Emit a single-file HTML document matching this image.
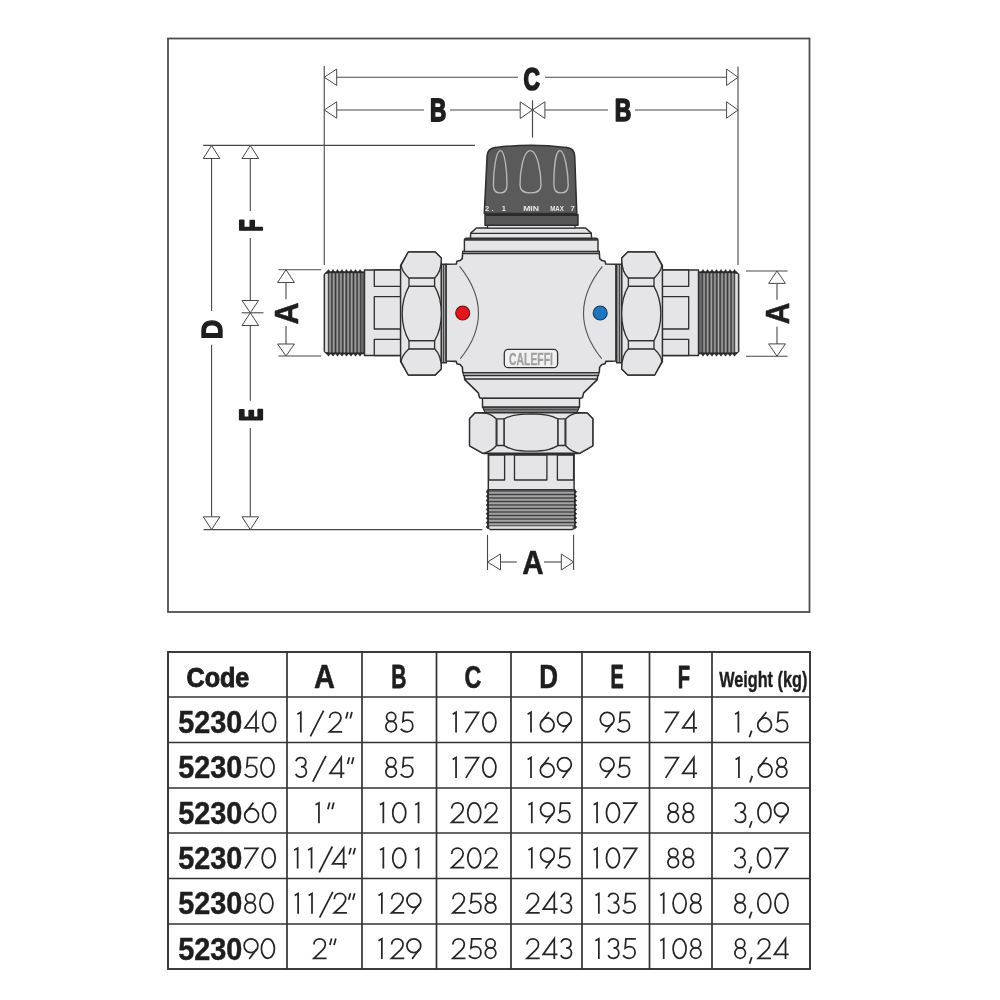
<!DOCTYPE html>
<html><head><meta charset="utf-8"><style>
html,body{margin:0;padding:0;background:#fff;}
body{width:1000px;height:1000px;overflow:hidden;font-family:"Liberation Sans",sans-serif;}
svg{display:block;} text{-webkit-font-smoothing:antialiased;} .gs{will-change:transform;}
</style></head><body>
<svg class="gs" width="1000" height="1000" viewBox="0 0 1000 1000">
<rect width="1000" height="1000" fill="#fff"/>
<rect x="168" y="38.5" width="641.5" height="573.5" fill="none" stroke="#4d4d4d" stroke-width="1.8"/>
<line x1="324.25" y1="66" x2="324.25" y2="265" stroke="#484848" stroke-width="1.1"/>
<line x1="738" y1="66.5" x2="738" y2="265" stroke="#484848" stroke-width="1.1"/>
<line x1="336" y1="77.25" x2="518" y2="77.25" stroke="#484848" stroke-width="1.1"/>
<line x1="545" y1="77.25" x2="727" y2="77.25" stroke="#484848" stroke-width="1.1"/>
<polygon points="324.25,77.25 336.70,69.05 336.70,85.45" fill="#fff" stroke="#484848" stroke-width="1.0" />
<polygon points="738.00,77.25 726.60,69.05 726.60,85.45" fill="#fff" stroke="#484848" stroke-width="1.0" />
<line x1="336" y1="110" x2="424" y2="110" stroke="#484848" stroke-width="1.1"/>
<line x1="450" y1="110" x2="520.5" y2="110" stroke="#484848" stroke-width="1.1"/>
<line x1="544.5" y1="110" x2="608" y2="110" stroke="#484848" stroke-width="1.1"/>
<line x1="635" y1="110" x2="727" y2="110" stroke="#484848" stroke-width="1.1"/>
<polygon points="324.25,110.00 336.70,101.80 336.70,118.20" fill="#fff" stroke="#484848" stroke-width="1.0" />
<polygon points="738.00,110.00 726.60,101.80 726.60,118.20" fill="#fff" stroke="#484848" stroke-width="1.0" />
<line x1="532.5" y1="100.5" x2="532.5" y2="137.4" stroke="#484848" stroke-width="1.1"/>
<polygon points="532.50,110.00 520.20,101.80 520.20,118.50" fill="#fff" stroke="#484848" stroke-width="1.0" />
<polygon points="532.50,110.00 544.90,101.80 544.90,118.50" fill="#fff" stroke="#484848" stroke-width="1.0" />
<line x1="532.5" y1="100.5" x2="532.5" y2="137.4" stroke="#484848" stroke-width="1.1"/>
<line x1="203.2" y1="145.4" x2="475" y2="145.4" stroke="#484848" stroke-width="1.1"/>
<line x1="203.6" y1="529.6" x2="482.4" y2="529.6" stroke="#484848" stroke-width="1.1"/>
<line x1="211.6" y1="158" x2="211.6" y2="311" stroke="#484848" stroke-width="1.1"/>
<line x1="211.6" y1="344.7" x2="211.6" y2="517" stroke="#484848" stroke-width="1.1"/>
<polygon points="211.60,145.40 203.30,158.50 219.90,158.50" fill="#fff" stroke="#484848" stroke-width="1.0" />
<polygon points="211.60,529.60 203.30,516.80 219.90,516.80" fill="#fff" stroke="#484848" stroke-width="1.0" />
<line x1="250.3" y1="158" x2="250.3" y2="211" stroke="#484848" stroke-width="1.1"/>
<line x1="250.3" y1="238" x2="250.3" y2="300.5" stroke="#484848" stroke-width="1.1"/>
<line x1="250.3" y1="325.5" x2="250.3" y2="400.8" stroke="#484848" stroke-width="1.1"/>
<line x1="250.3" y1="428" x2="250.3" y2="517" stroke="#484848" stroke-width="1.1"/>
<polygon points="250.30,145.40 242.00,158.50 258.60,158.50" fill="#fff" stroke="#484848" stroke-width="1.0" />
<polygon points="250.30,529.60 242.00,516.80 258.60,516.80" fill="#fff" stroke="#484848" stroke-width="1.0" />
<polygon points="250.30,312.80 242.00,300.50 258.60,300.50" fill="#fff" stroke="#484848" stroke-width="1.0" />
<polygon points="250.30,312.80 242.00,325.50 258.60,325.50" fill="#fff" stroke="#484848" stroke-width="1.0" />
<line x1="241.75" y1="312.8" x2="263.5" y2="312.8" stroke="#484848" stroke-width="1.1"/>
<line x1="278.5" y1="269.75" x2="321.25" y2="269.75" stroke="#484848" stroke-width="1.1"/>
<line x1="278.5" y1="356" x2="321.25" y2="356" stroke="#484848" stroke-width="1.1"/>
<line x1="286" y1="282.5" x2="286" y2="299.3" stroke="#484848" stroke-width="1.1"/>
<line x1="286" y1="326" x2="286" y2="344" stroke="#484848" stroke-width="1.1"/>
<polygon points="286.00,269.75 277.60,282.50 294.40,282.50" fill="#fff" stroke="#484848" stroke-width="1.0" />
<polygon points="286.00,356.00 277.60,344.00 294.40,344.00" fill="#fff" stroke="#484848" stroke-width="1.0" />
<line x1="746" y1="271" x2="787.6" y2="271" stroke="#484848" stroke-width="1.1"/>
<line x1="746" y1="356.2" x2="787.6" y2="356.2" stroke="#484848" stroke-width="1.1"/>
<line x1="777" y1="283.4" x2="777" y2="299.8" stroke="#484848" stroke-width="1.1"/>
<line x1="777" y1="326.8" x2="777" y2="343.9" stroke="#484848" stroke-width="1.1"/>
<polygon points="777.00,271.00 768.60,283.40 785.40,283.40" fill="#fff" stroke="#484848" stroke-width="1.0" />
<polygon points="777.00,356.20 768.60,343.90 785.40,343.90" fill="#fff" stroke="#484848" stroke-width="1.0" />
<line x1="487.5" y1="534.8" x2="487.5" y2="570" stroke="#484848" stroke-width="1.1"/>
<line x1="573.6" y1="534.8" x2="573.6" y2="570" stroke="#484848" stroke-width="1.1"/>
<line x1="500.5" y1="562" x2="516.8" y2="562" stroke="#484848" stroke-width="1.1"/>
<line x1="544" y1="562" x2="561.3" y2="562" stroke="#484848" stroke-width="1.1"/>
<polygon points="487.50,562.00 500.50,554.00 500.50,570.00" fill="#fff" stroke="#484848" stroke-width="1.0" />
<polygon points="573.60,562.00 561.30,554.00 561.30,570.00" fill="#fff" stroke="#484848" stroke-width="1.0" />
<g transform="translate(531.70,78.55) rotate(0) scale(0.6957,0.9304)"><text x="0" y="11.78" text-anchor="middle" font-family="Liberation Sans" font-weight="bold" font-size="32.72" fill="#1e1e1e" stroke="#1e1e1e" stroke-width="1.869" stroke-linejoin="round">C</text></g>
<g transform="translate(438.20,109.90) rotate(0) scale(0.7401,1.0048)"><text x="0" y="10.96" text-anchor="middle" font-family="Liberation Sans" font-weight="bold" font-size="30.45" fill="#1e1e1e" stroke="#1e1e1e" stroke-width="1.756" stroke-linejoin="round">B</text></g>
<g transform="translate(622.90,109.90) rotate(0) scale(0.7514,1.0048)"><text x="0" y="10.96" text-anchor="middle" font-family="Liberation Sans" font-weight="bold" font-size="30.45" fill="#1e1e1e" stroke="#1e1e1e" stroke-width="1.730" stroke-linejoin="round">B</text></g>
<g transform="translate(211.65,329.50) rotate(-90) scale(0.8571,0.9516)"><text x="0" y="11.33" text-anchor="middle" font-family="Liberation Sans" font-weight="bold" font-size="31.48" fill="#1e1e1e" stroke="#1e1e1e" stroke-width="1.517" stroke-linejoin="round">D</text></g>
<g transform="translate(250.20,225.40) rotate(-90) scale(0.6272,1.0046)"><text x="0" y="11.26" text-anchor="middle" font-family="Liberation Sans" font-weight="bold" font-size="31.28" fill="#1e1e1e" stroke="#1e1e1e" stroke-width="2.073" stroke-linejoin="round">F</text></g>
<g transform="translate(250.20,414.80) rotate(-90) scale(0.5830,1.0045)"><text x="0" y="11.46" text-anchor="middle" font-family="Liberation Sans" font-weight="bold" font-size="31.82" fill="#1e1e1e" stroke="#1e1e1e" stroke-width="2.230" stroke-linejoin="round">E</text></g>
<g transform="translate(285.75,313.50) rotate(-90) scale(0.9567,1.0575)"><text x="0" y="11.48" text-anchor="middle" font-family="Liberation Sans" font-weight="bold" font-size="31.89" fill="#1e1e1e" stroke="#1e1e1e" stroke-width="0.523" stroke-linejoin="round">A</text></g>
<g transform="translate(776.90,313.50) rotate(-90) scale(0.9559,1.0463)"><text x="0" y="11.26" text-anchor="middle" font-family="Liberation Sans" font-weight="bold" font-size="31.28" fill="#1e1e1e" stroke="#1e1e1e" stroke-width="0.523" stroke-linejoin="round">A</text></g>
<g transform="translate(532.90,561.90) rotate(0) scale(0.9329,1.0462)"><text x="0" y="11.46" text-anchor="middle" font-family="Liberation Sans" font-weight="bold" font-size="31.82" fill="#1e1e1e" stroke="#1e1e1e" stroke-width="0.536" stroke-linejoin="round">A</text></g>
<g transform="translate(217.90,677.00) rotate(0) scale(0.8663,0.9589)"><text x="0" y="10.44" text-anchor="middle" font-family="Liberation Sans" font-weight="bold" font-size="29.00" fill="#1e1e1e" stroke="#1e1e1e" stroke-width="1.039" stroke-linejoin="round">Code</text></g>
<g transform="translate(324.40,676.10) rotate(0) scale(1.0011,1.1297)"><text x="0" y="10.44" text-anchor="middle" font-family="Liberation Sans" font-weight="bold" font-size="29.00" fill="#1e1e1e" stroke="#1e1e1e" stroke-width="0.499" stroke-linejoin="round">A</text></g>
<g transform="translate(398.90,676.10) rotate(0) scale(0.7238,1.1297)"><text x="0" y="10.44" text-anchor="middle" font-family="Liberation Sans" font-weight="bold" font-size="29.00" fill="#1e1e1e" stroke="#1e1e1e" stroke-width="0.691" stroke-linejoin="round">B</text></g>
<g transform="translate(472.90,677.00) rotate(0) scale(0.8012,1.1000)"><text x="0" y="10.44" text-anchor="middle" font-family="Liberation Sans" font-weight="bold" font-size="29.00" fill="#1e1e1e" stroke="#1e1e1e" stroke-width="0.624" stroke-linejoin="round">C</text></g>
<g transform="translate(548.50,676.10) rotate(0) scale(0.8951,1.1297)"><text x="0" y="10.44" text-anchor="middle" font-family="Liberation Sans" font-weight="bold" font-size="29.00" fill="#1e1e1e" stroke="#1e1e1e" stroke-width="0.559" stroke-linejoin="round">D</text></g>
<g transform="translate(617.10,676.10) rotate(0) scale(0.6832,1.1297)"><text x="0" y="10.44" text-anchor="middle" font-family="Liberation Sans" font-weight="bold" font-size="29.00" fill="#1e1e1e" stroke="#1e1e1e" stroke-width="0.732" stroke-linejoin="round">E</text></g>
<g transform="translate(683.90,677.10) rotate(0) scale(0.6954,1.0566)"><text x="0" y="10.44" text-anchor="middle" font-family="Liberation Sans" font-weight="bold" font-size="29.00" fill="#1e1e1e" stroke="#1e1e1e" stroke-width="0.719" stroke-linejoin="round">F</text></g>
<g transform="translate(763.25,679.60) rotate(0) scale(0.5610,0.7545)"><text x="0" y="10.44" text-anchor="middle" font-family="Liberation Sans" font-weight="bold" font-size="29.00" fill="#1e1e1e" stroke="#1e1e1e" stroke-width="0.535" stroke-linejoin="round">Weight (kg)</text></g>
<g>
<path d="M326.50,272.25 L364.50,272.25 L364.50,353.50 L326.50,353.50 L324.25,351.00 L324.25,274.50 Z" fill="#6c6c6c" stroke="#2f2f2f" stroke-width="1.32" stroke-linejoin="round" />
<rect x="325.2" y="274" width="2.8" height="78" fill="#e0e0e0"/>
<line x1="328.30" y1="272.5" x2="328.30" y2="353.3" stroke="#333" stroke-width="0.85"/>
<line x1="330.10" y1="272.5" x2="330.10" y2="353.3" stroke="#c4c4c4" stroke-width="0.7"/>
<line x1="331.90" y1="272.5" x2="331.90" y2="353.3" stroke="#333" stroke-width="0.85"/>
<line x1="333.70" y1="272.5" x2="333.70" y2="353.3" stroke="#c4c4c4" stroke-width="0.7"/>
<line x1="335.50" y1="272.5" x2="335.50" y2="353.3" stroke="#333" stroke-width="0.85"/>
<line x1="337.30" y1="272.5" x2="337.30" y2="353.3" stroke="#c4c4c4" stroke-width="0.7"/>
<line x1="339.10" y1="272.5" x2="339.10" y2="353.3" stroke="#333" stroke-width="0.85"/>
<line x1="340.90" y1="272.5" x2="340.90" y2="353.3" stroke="#c4c4c4" stroke-width="0.7"/>
<line x1="342.70" y1="272.5" x2="342.70" y2="353.3" stroke="#333" stroke-width="0.85"/>
<line x1="344.50" y1="272.5" x2="344.50" y2="353.3" stroke="#c4c4c4" stroke-width="0.7"/>
<line x1="346.30" y1="272.5" x2="346.30" y2="353.3" stroke="#333" stroke-width="0.85"/>
<line x1="348.10" y1="272.5" x2="348.10" y2="353.3" stroke="#c4c4c4" stroke-width="0.7"/>
<line x1="349.90" y1="272.5" x2="349.90" y2="353.3" stroke="#333" stroke-width="0.85"/>
<line x1="351.70" y1="272.5" x2="351.70" y2="353.3" stroke="#c4c4c4" stroke-width="0.7"/>
<line x1="353.50" y1="272.5" x2="353.50" y2="353.3" stroke="#333" stroke-width="0.85"/>
<line x1="355.30" y1="272.5" x2="355.30" y2="353.3" stroke="#c4c4c4" stroke-width="0.7"/>
<line x1="357.10" y1="272.5" x2="357.10" y2="353.3" stroke="#333" stroke-width="0.85"/>
<line x1="358.90" y1="272.5" x2="358.90" y2="353.3" stroke="#c4c4c4" stroke-width="0.7"/>
<line x1="360.70" y1="272.5" x2="360.70" y2="353.3" stroke="#333" stroke-width="0.85"/>
<path d="M326.25,272.8 L328.50,269.6 L330.75,272.8 Z M326.25,353.0 L328.50,356.2 L330.75,353.0 Z M330.75,272.8 L333.00,269.6 L335.25,272.8 Z M330.75,353.0 L333.00,356.2 L335.25,353.0 Z M335.25,272.8 L337.50,269.6 L339.75,272.8 Z M335.25,353.0 L337.50,356.2 L339.75,353.0 Z M339.75,272.8 L342.00,269.6 L344.25,272.8 Z M339.75,353.0 L342.00,356.2 L344.25,353.0 Z M344.25,272.8 L346.50,269.6 L348.75,272.8 Z M344.25,353.0 L346.50,356.2 L348.75,353.0 Z M348.75,272.8 L351.00,269.6 L353.25,272.8 Z M348.75,353.0 L351.00,356.2 L353.25,353.0 Z M353.25,272.8 L355.50,269.6 L357.75,272.8 Z M353.25,353.0 L355.50,356.2 L357.75,353.0 Z M357.75,272.8 L360.00,269.6 L362.25,272.8 Z M357.75,353.0 L360.00,356.2 L362.25,353.0 Z" fill="#2a2a2a" stroke="#2a2a2a" stroke-width="0.6"/>
<line x1="326" y1="272.4" x2="364.5" y2="272.4" stroke="#2a2a2a" stroke-width="1.2"/>
<line x1="326" y1="353.4" x2="364.5" y2="353.4" stroke="#2a2a2a" stroke-width="1.2"/>
<path d="M364.50,270.00 L400.60,270.00 L400.60,355.50 L364.50,355.50 Z" fill="#e5e5e7" stroke="#2f2f2f" stroke-width="1.44" stroke-linejoin="round" />
<path d="M374.30,270.00 L400.60,270.00 L400.60,286.40 L374.30,286.40 Z" fill="#e5e5e7" stroke="#2f2f2f" stroke-width="1.32" stroke-linejoin="round" />
<path d="M374.30,296.70 L400.60,296.70 L400.60,329.00 L374.30,329.00 Z" fill="#e5e5e7" stroke="#2f2f2f" stroke-width="1.32" stroke-linejoin="round" />
<path d="M374.30,339.40 L400.60,339.40 L400.60,355.50 L374.30,355.50 Z" fill="#e5e5e7" stroke="#2f2f2f" stroke-width="1.32" stroke-linejoin="round" />
<path d="M441.20,264.20 L446.40,264.20 L446.40,362.80 L441.20,362.80 Z" fill="#a9a9a9" stroke="#2f2f2f" stroke-width="1.44" stroke-linejoin="round" />
<line x1="443.6" y1="265" x2="443.6" y2="362" stroke="#3a3a3a" stroke-width="1.0"/>
<path d="M408.30,252.00 L435.20,252.00 L441.20,258.00 L441.20,369.00 L435.20,375.00 L408.30,375.00 L400.60,361.70 L400.60,265.30 Z" fill="#e5e5e7" stroke="#2f2f2f" stroke-width="1.44" stroke-linejoin="round" />
<path d="M408.3,252 L435.2,252 L441.2,258 C441.5,266 439,274 434.6,278.2 L409,278.2 C404.5,274 401.5,270 401.2,265.3 Z" fill="#e5e5e7" stroke="#2f2f2f" stroke-width="1.32" stroke-linejoin="round" />
<path d="M408.3,375 L435.2,375 L441.2,369 C441.5,361 439,353 434.6,348.8 L409,348.8 C404.5,353 401.5,357 401.2,361.7 Z" fill="#e5e5e7" stroke="#2f2f2f" stroke-width="1.32" stroke-linejoin="round" />
<path d="M409.00,278.20 L434.60,278.20 L434.60,286.30 L409.00,286.30 Z" fill="#e5e5e7" stroke="#2f2f2f" stroke-width="1.32" stroke-linejoin="round" />
<path d="M409.00,340.70 L434.60,340.70 L434.60,348.80 L409.00,348.80 Z" fill="#e5e5e7" stroke="#2f2f2f" stroke-width="1.32" stroke-linejoin="round" />
<path d="M409,286.3 L434.6,286.3 C440,295 441.3,305 441.3,313.5 C441.3,322 440,332 434.6,340.7 L409,340.7 C404,332 402.2,322 402.2,313.5 C402.2,305 404,295 409,286.3 Z" fill="#e5e5e7" stroke="#2f2f2f" stroke-width="1.32" stroke-linejoin="round" />
</g>
<g transform="translate(1063,0) scale(-1,1)">
<path d="M326.50,272.25 L364.50,272.25 L364.50,353.50 L326.50,353.50 L324.25,351.00 L324.25,274.50 Z" fill="#6c6c6c" stroke="#2f2f2f" stroke-width="1.32" stroke-linejoin="round" />
<rect x="325.2" y="274" width="2.8" height="78" fill="#e0e0e0"/>
<line x1="328.30" y1="272.5" x2="328.30" y2="353.3" stroke="#333" stroke-width="0.85"/>
<line x1="330.10" y1="272.5" x2="330.10" y2="353.3" stroke="#c4c4c4" stroke-width="0.7"/>
<line x1="331.90" y1="272.5" x2="331.90" y2="353.3" stroke="#333" stroke-width="0.85"/>
<line x1="333.70" y1="272.5" x2="333.70" y2="353.3" stroke="#c4c4c4" stroke-width="0.7"/>
<line x1="335.50" y1="272.5" x2="335.50" y2="353.3" stroke="#333" stroke-width="0.85"/>
<line x1="337.30" y1="272.5" x2="337.30" y2="353.3" stroke="#c4c4c4" stroke-width="0.7"/>
<line x1="339.10" y1="272.5" x2="339.10" y2="353.3" stroke="#333" stroke-width="0.85"/>
<line x1="340.90" y1="272.5" x2="340.90" y2="353.3" stroke="#c4c4c4" stroke-width="0.7"/>
<line x1="342.70" y1="272.5" x2="342.70" y2="353.3" stroke="#333" stroke-width="0.85"/>
<line x1="344.50" y1="272.5" x2="344.50" y2="353.3" stroke="#c4c4c4" stroke-width="0.7"/>
<line x1="346.30" y1="272.5" x2="346.30" y2="353.3" stroke="#333" stroke-width="0.85"/>
<line x1="348.10" y1="272.5" x2="348.10" y2="353.3" stroke="#c4c4c4" stroke-width="0.7"/>
<line x1="349.90" y1="272.5" x2="349.90" y2="353.3" stroke="#333" stroke-width="0.85"/>
<line x1="351.70" y1="272.5" x2="351.70" y2="353.3" stroke="#c4c4c4" stroke-width="0.7"/>
<line x1="353.50" y1="272.5" x2="353.50" y2="353.3" stroke="#333" stroke-width="0.85"/>
<line x1="355.30" y1="272.5" x2="355.30" y2="353.3" stroke="#c4c4c4" stroke-width="0.7"/>
<line x1="357.10" y1="272.5" x2="357.10" y2="353.3" stroke="#333" stroke-width="0.85"/>
<line x1="358.90" y1="272.5" x2="358.90" y2="353.3" stroke="#c4c4c4" stroke-width="0.7"/>
<line x1="360.70" y1="272.5" x2="360.70" y2="353.3" stroke="#333" stroke-width="0.85"/>
<path d="M326.25,272.8 L328.50,269.6 L330.75,272.8 Z M326.25,353.0 L328.50,356.2 L330.75,353.0 Z M330.75,272.8 L333.00,269.6 L335.25,272.8 Z M330.75,353.0 L333.00,356.2 L335.25,353.0 Z M335.25,272.8 L337.50,269.6 L339.75,272.8 Z M335.25,353.0 L337.50,356.2 L339.75,353.0 Z M339.75,272.8 L342.00,269.6 L344.25,272.8 Z M339.75,353.0 L342.00,356.2 L344.25,353.0 Z M344.25,272.8 L346.50,269.6 L348.75,272.8 Z M344.25,353.0 L346.50,356.2 L348.75,353.0 Z M348.75,272.8 L351.00,269.6 L353.25,272.8 Z M348.75,353.0 L351.00,356.2 L353.25,353.0 Z M353.25,272.8 L355.50,269.6 L357.75,272.8 Z M353.25,353.0 L355.50,356.2 L357.75,353.0 Z M357.75,272.8 L360.00,269.6 L362.25,272.8 Z M357.75,353.0 L360.00,356.2 L362.25,353.0 Z" fill="#2a2a2a" stroke="#2a2a2a" stroke-width="0.6"/>
<line x1="326" y1="272.4" x2="364.5" y2="272.4" stroke="#2a2a2a" stroke-width="1.2"/>
<line x1="326" y1="353.4" x2="364.5" y2="353.4" stroke="#2a2a2a" stroke-width="1.2"/>
<path d="M364.50,270.00 L400.60,270.00 L400.60,355.50 L364.50,355.50 Z" fill="#e5e5e7" stroke="#2f2f2f" stroke-width="1.44" stroke-linejoin="round" />
<path d="M374.30,270.00 L400.60,270.00 L400.60,286.40 L374.30,286.40 Z" fill="#e5e5e7" stroke="#2f2f2f" stroke-width="1.32" stroke-linejoin="round" />
<path d="M374.30,296.70 L400.60,296.70 L400.60,329.00 L374.30,329.00 Z" fill="#e5e5e7" stroke="#2f2f2f" stroke-width="1.32" stroke-linejoin="round" />
<path d="M374.30,339.40 L400.60,339.40 L400.60,355.50 L374.30,355.50 Z" fill="#e5e5e7" stroke="#2f2f2f" stroke-width="1.32" stroke-linejoin="round" />
<path d="M441.20,264.20 L446.40,264.20 L446.40,362.80 L441.20,362.80 Z" fill="#a9a9a9" stroke="#2f2f2f" stroke-width="1.44" stroke-linejoin="round" />
<line x1="443.6" y1="265" x2="443.6" y2="362" stroke="#3a3a3a" stroke-width="1.0"/>
<path d="M408.30,252.00 L435.20,252.00 L441.20,258.00 L441.20,369.00 L435.20,375.00 L408.30,375.00 L400.60,361.70 L400.60,265.30 Z" fill="#e5e5e7" stroke="#2f2f2f" stroke-width="1.44" stroke-linejoin="round" />
<path d="M408.3,252 L435.2,252 L441.2,258 C441.5,266 439,274 434.6,278.2 L409,278.2 C404.5,274 401.5,270 401.2,265.3 Z" fill="#e5e5e7" stroke="#2f2f2f" stroke-width="1.32" stroke-linejoin="round" />
<path d="M408.3,375 L435.2,375 L441.2,369 C441.5,361 439,353 434.6,348.8 L409,348.8 C404.5,353 401.5,357 401.2,361.7 Z" fill="#e5e5e7" stroke="#2f2f2f" stroke-width="1.32" stroke-linejoin="round" />
<path d="M409.00,278.20 L434.60,278.20 L434.60,286.30 L409.00,286.30 Z" fill="#e5e5e7" stroke="#2f2f2f" stroke-width="1.32" stroke-linejoin="round" />
<path d="M409.00,340.70 L434.60,340.70 L434.60,348.80 L409.00,348.80 Z" fill="#e5e5e7" stroke="#2f2f2f" stroke-width="1.32" stroke-linejoin="round" />
<path d="M409,286.3 L434.6,286.3 C440,295 441.3,305 441.3,313.5 C441.3,322 440,332 434.6,340.7 L409,340.7 C404,332 402.2,322 402.2,313.5 C402.2,305 404,295 409,286.3 Z" fill="#e5e5e7" stroke="#2f2f2f" stroke-width="1.32" stroke-linejoin="round" />
</g>
<path d="M462.60,253.20 L462.30,258.60 L460.20,260.40 L456.90,261.30 L456.30,264.00 L446.10,264.30 L446.10,361.00 L456.20,361.40 L456.90,363.70 L460.10,364.60 L462.40,367.20 L462.70,372.10 L464.30,374.70 L464.70,379.60 L478.30,392.90 L479.60,397.80 L482.50,398.40 L579.50,398.40 L582.40,397.80 L583.70,392.90 L597.30,379.60 L597.70,374.70 L599.30,372.10 L599.60,367.20 L601.90,364.60 L605.10,363.70 L605.80,361.40 L615.90,361.00 L615.90,264.30 L605.70,264.00 L605.10,261.30 L601.80,260.40 L599.70,258.60 L599.40,253.20 Z" fill="#e5e5e7" stroke="#2f2f2f" stroke-width="1.56" stroke-linejoin="round" />
<path d="M482.50,398.40 L579.50,398.40 L579.50,407.20 L482.50,407.20 Z" fill="#e5e5e7" stroke="#2f2f2f" stroke-width="1.44" stroke-linejoin="round" />
<path d="M482.80,407.20 L579.20,407.20 L577.00,412.50 L485.00,412.50 Z" fill="#7c7c7c" stroke="#2f2f2f" stroke-width="1.2" stroke-linejoin="round" />
<line x1="484" y1="409.6" x2="578" y2="409.6" stroke="#444" stroke-width="0.9"/>
<path d="M463.20,372.60 L598.80,372.60 L598.60,375.60 L463.40,375.60 Z" fill="#a8a8a8" stroke="#2f2f2f" stroke-width="1.08" stroke-linejoin="round" />
<line x1="464.7" y1="379" x2="597.3" y2="379" stroke="#2f2f2f" stroke-width="1.3"/>
<path d="M462.60,253.60 L599.40,253.60 L599.40,251.20 L462.60,251.20 Z" fill="#8c8c8c" stroke="#2f2f2f" stroke-width="1.2" stroke-linejoin="round" />
<path d="M464.4,251.4 L464.4,240.5 Q464.4,238.2 466.5,238.2 L595.9,238.2 Q598,238.2 598,240.5 L598,251.4 Z" fill="#e5e5e7" stroke="#2f2f2f" stroke-width="1.44" stroke-linejoin="round" />
<line x1="465" y1="239.8" x2="597.5" y2="239.8" stroke="#3a3a3a" stroke-width="2"/>
<path d="M476.40,228.00 L585.60,228.00 L591.30,233.10 L591.60,238.20 L470.40,238.20 L470.70,233.10 Z" fill="#e5e5e7" stroke="#2f2f2f" stroke-width="1.44" stroke-linejoin="round" />
<line x1="471" y1="233.3" x2="591" y2="233.3" stroke="#2f2f2f" stroke-width="1.3"/>
<path d="M487.50,225.00 L575.00,225.00 L575.00,228.00 L487.50,228.00 Z" fill="#e5e5e7" stroke="#2f2f2f" stroke-width="1.2" stroke-linejoin="round" />
<path d="M485.00,214.50 L578.00,214.50 L578.00,225.20 L485.00,225.20 Z" fill="#575757" stroke="#2f2f2f" stroke-width="1.44" stroke-linejoin="round" />
<line x1="486" y1="215.2" x2="577" y2="215.2" stroke="#2a2a2a" stroke-width="1.6"/>
<path d="M484.3,213.5 L487.1,156 Q487.6,148.2 496,147.4 Q531,143.2 566,147.4 Q574.4,148.2 574.7,156 L576.8,213.5 Z" fill="#5a5a5a" stroke="#2f2f2f" stroke-width="1.56" stroke-linejoin="round" />
<path d="M500.4,150.6 C495.64,150.6 493.4,172.9 493.4,184.9 C493.4,190.9 496.79999999999995,192.9 500.2,192.9 C503.6,192.9 507,190.9 507,184.9 C507,172.9 505.15999999999997,150.6 500.4,150.6 Z" fill="none" stroke="#b9b9b9" stroke-width="1.35"/>
<path d="M530.3,150.6 C522.9499999999999,150.6 520,172.9 520,184.9 C520,190.9 525.25,192.9 530.5,192.9 C535.75,192.9 541,190.9 541,184.9 C541,172.9 537.65,150.6 530.3,150.6 Z" fill="none" stroke="#b9b9b9" stroke-width="1.35"/>
<path d="M559.9,150.6 C554.895,150.6 553.9,172.9 553.9,184.9 C553.9,190.9 557.475,192.9 561.05,192.9 C564.625,192.9 568.2,190.9 568.2,184.9 C568.2,172.9 564.905,150.6 559.9,150.6 Z" fill="none" stroke="#b9b9b9" stroke-width="1.35"/>
<text x="485" y="210.5" font-family="Liberation Sans" font-weight="bold" font-size="7.5" fill="#e8e8e8">2</text>
<text x="491.5" y="210.5" font-family="Liberation Sans" font-weight="bold" font-size="7.5" fill="#e8e8e8">.</text>
<text x="501.8" y="210.5" font-family="Liberation Sans" font-weight="bold" font-size="7.5" fill="#e8e8e8">1</text>
<text x="523.2" y="210.5" font-family="Liberation Sans" font-weight="bold" font-size="7.5" fill="#e8e8e8" textLength="15.8" lengthAdjust="spacingAndGlyphs">MIN</text>
<text x="550.2" y="210.5" font-family="Liberation Sans" font-weight="bold" font-size="7.5" fill="#e8e8e8" textLength="13.6" lengthAdjust="spacingAndGlyphs">MAX</text>
<text x="570.6" y="210.5" font-family="Liberation Sans" font-weight="bold" font-size="7.5" fill="#e8e8e8">7</text>
<path d="M459.6,266.3 Q497,313 460.3,358.7" fill="none" stroke="#555" stroke-width="1.1"/>
<path d="M602.4,266.3 Q565,313 601.7,358.7" fill="none" stroke="#555" stroke-width="1.1"/>
<circle cx="462.7" cy="313" r="7" fill="#e3151e" stroke="#6e1010" stroke-width="1.1"/>
<circle cx="600.2" cy="313" r="7" fill="#1f75c0" stroke="#0f3a60" stroke-width="1.1"/>
<rect x="504.3" y="349.3" width="53.3" height="18.4" rx="4" fill="#f1f1f1" stroke="#333" stroke-width="1.3"/>
<text x="531" y="364.8" text-anchor="middle" font-family="Liberation Sans" font-weight="bold" font-size="16.5" fill="#a0a0a0" stroke="#a0a0a0" stroke-width="0.3" textLength="43.8" lengthAdjust="spacingAndGlyphs">CALEFFI</text>
<path d="M475.20,412.80 L586.90,412.80 L592.80,418.80 L592.80,445.70 L579.50,453.40 L482.90,453.40 L469.60,445.70 L469.60,418.80 Z" fill="#e5e5e7" stroke="#2f2f2f" stroke-width="1.56" stroke-linejoin="round" />
<path d="M475.2,412.8 L487,413.4 C491,414.4 494,416.5 496.2,418.8 L496.2,445.7 C493,449.5 489,452 482.9,453.4 L469.6,445.7 L469.6,418.8 Z" fill="#e5e5e7" stroke="#2f2f2f" stroke-width="1.32" stroke-linejoin="round" />
<path d="M586.9,412.8 L575,413.4 C571,414.4 568,416.5 565.8,418.8 L565.8,445.7 C569,449.5 573,452 579.5,453.4 L592.8,445.7 L592.8,418.8 Z" fill="#e5e5e7" stroke="#2f2f2f" stroke-width="1.32" stroke-linejoin="round" />
<path d="M496.90,418.80 L504.20,418.80 L504.20,445.50 L496.90,445.50 Z" fill="#e5e5e7" stroke="#2f2f2f" stroke-width="1.32" stroke-linejoin="round" />
<path d="M557.80,418.80 L565.10,418.80 L565.10,445.50 L557.80,445.50 Z" fill="#e5e5e7" stroke="#2f2f2f" stroke-width="1.32" stroke-linejoin="round" />
<path d="M504.2,418.8 C510,416 515,414 531,413.8 C547,414 552,416 557.8,418.8 L557.8,445.6 C552,449 547,451 531,451.2 C515,451 510,449 504.2,445.6 Z" fill="#e5e5e7" stroke="#2f2f2f" stroke-width="1.32" stroke-linejoin="round" />
<path d="M488.30,453.60 L574.10,453.60 L574.10,489.70 L488.30,489.70 Z" fill="#e5e5e7" stroke="#2f2f2f" stroke-width="1.44" stroke-linejoin="round" />
<line x1="488.3" y1="454.5" x2="574.1" y2="454.5" stroke="#2f2f2f" stroke-width="1.8"/>
<path d="M488.70,455.20 L504.60,455.20 L504.60,480.00 L488.70,480.00 Z" fill="#e5e5e7" stroke="#2f2f2f" stroke-width="1.32" stroke-linejoin="round" />
<path d="M514.50,455.20 L546.90,455.20 L546.90,480.00 L514.50,480.00 Z" fill="#e5e5e7" stroke="#2f2f2f" stroke-width="1.32" stroke-linejoin="round" />
<path d="M557.40,455.20 L573.60,455.20 L573.60,480.00 L557.40,480.00 Z" fill="#e5e5e7" stroke="#2f2f2f" stroke-width="1.32" stroke-linejoin="round" />
<path d="M488.00,489.70 L574.80,489.70 L574.80,527.50 L572.50,529.60 L490.30,529.60 L488.00,527.50 Z" fill="#808080" stroke="#2f2f2f" stroke-width="1.32" stroke-linejoin="round" />
<line x1="489" y1="491.00" x2="574" y2="491.00" stroke="#333" stroke-width="0.85"/>
<line x1="489" y1="492.75" x2="574" y2="492.75" stroke="#c4c4c4" stroke-width="0.7"/>
<line x1="489" y1="494.50" x2="574" y2="494.50" stroke="#333" stroke-width="0.85"/>
<line x1="489" y1="496.25" x2="574" y2="496.25" stroke="#c4c4c4" stroke-width="0.7"/>
<line x1="489" y1="498.00" x2="574" y2="498.00" stroke="#333" stroke-width="0.85"/>
<line x1="489" y1="499.75" x2="574" y2="499.75" stroke="#c4c4c4" stroke-width="0.7"/>
<line x1="489" y1="501.50" x2="574" y2="501.50" stroke="#333" stroke-width="0.85"/>
<line x1="489" y1="503.25" x2="574" y2="503.25" stroke="#c4c4c4" stroke-width="0.7"/>
<line x1="489" y1="505.00" x2="574" y2="505.00" stroke="#333" stroke-width="0.85"/>
<line x1="489" y1="506.75" x2="574" y2="506.75" stroke="#c4c4c4" stroke-width="0.7"/>
<line x1="489" y1="508.50" x2="574" y2="508.50" stroke="#333" stroke-width="0.85"/>
<line x1="489" y1="510.25" x2="574" y2="510.25" stroke="#c4c4c4" stroke-width="0.7"/>
<line x1="489" y1="512.00" x2="574" y2="512.00" stroke="#333" stroke-width="0.85"/>
<line x1="489" y1="513.75" x2="574" y2="513.75" stroke="#c4c4c4" stroke-width="0.7"/>
<line x1="489" y1="515.50" x2="574" y2="515.50" stroke="#333" stroke-width="0.85"/>
<line x1="489" y1="517.25" x2="574" y2="517.25" stroke="#c4c4c4" stroke-width="0.7"/>
<line x1="489" y1="519.00" x2="574" y2="519.00" stroke="#333" stroke-width="0.85"/>
<line x1="489" y1="520.75" x2="574" y2="520.75" stroke="#c4c4c4" stroke-width="0.7"/>
<line x1="489" y1="522.50" x2="574" y2="522.50" stroke="#333" stroke-width="0.85"/>
<line x1="489" y1="524.25" x2="574" y2="524.25" stroke="#c4c4c4" stroke-width="0.7"/>
<line x1="489" y1="526.00" x2="574" y2="526.00" stroke="#333" stroke-width="0.85"/>
<path d="M488.2,489.70 L486.0,491.80 L488.2,493.90 Z M574.6,489.70 L576.8,491.80 L574.6,493.90 Z M488.2,494.10 L486.0,496.20 L488.2,498.30 Z M574.6,494.10 L576.8,496.20 L574.6,498.30 Z M488.2,498.50 L486.0,500.60 L488.2,502.70 Z M574.6,498.50 L576.8,500.60 L574.6,502.70 Z M488.2,502.90 L486.0,505.00 L488.2,507.10 Z M574.6,502.90 L576.8,505.00 L574.6,507.10 Z M488.2,507.30 L486.0,509.40 L488.2,511.50 Z M574.6,507.30 L576.8,509.40 L574.6,511.50 Z M488.2,511.70 L486.0,513.80 L488.2,515.90 Z M574.6,511.70 L576.8,513.80 L574.6,515.90 Z M488.2,516.10 L486.0,518.20 L488.2,520.30 Z M574.6,516.10 L576.8,518.20 L574.6,520.30 Z M488.2,520.50 L486.0,522.60 L488.2,524.70 Z M574.6,520.50 L576.8,522.60 L574.6,524.70 Z M488.2,524.90 L486.0,527.00 L488.2,529.10 Z M574.6,524.90 L576.8,527.00 L574.6,529.10 Z" fill="#2a2a2a" stroke="#2a2a2a" stroke-width="0.6"/>
<rect x="489.5" y="526.3" width="83" height="2.4" fill="#e0e0e0"/>
<line x1="488.2" y1="489.7" x2="488.2" y2="527.5" stroke="#2a2a2a" stroke-width="1.2"/>
<line x1="574.6" y1="489.7" x2="574.6" y2="527.5" stroke="#2a2a2a" stroke-width="1.2"/>
<rect x="168" y="652" width="642" height="317" fill="none" stroke="#333" stroke-width="1.9"/>
<line x1="287" y1="652" x2="287" y2="969" stroke="#333" stroke-width="1.7"/>
<line x1="362" y1="652" x2="362" y2="969" stroke="#333" stroke-width="1.7"/>
<line x1="436.5" y1="652" x2="436.5" y2="969" stroke="#333" stroke-width="1.7"/>
<line x1="511" y1="652" x2="511" y2="969" stroke="#333" stroke-width="1.7"/>
<line x1="582" y1="652" x2="582" y2="969" stroke="#333" stroke-width="1.7"/>
<line x1="649.5" y1="652" x2="649.5" y2="969" stroke="#333" stroke-width="1.7"/>
<line x1="712" y1="652" x2="712" y2="969" stroke="#333" stroke-width="1.7"/>
<line x1="168" y1="697" x2="810" y2="697" stroke="#333" stroke-width="1.7"/>
<line x1="168" y1="742.5" x2="810" y2="742.5" stroke="#333" stroke-width="1.7"/>
<line x1="168" y1="788" x2="810" y2="788" stroke="#333" stroke-width="1.7"/>
<line x1="168" y1="833" x2="810" y2="833" stroke="#333" stroke-width="1.7"/>
<line x1="168" y1="878.5" x2="810" y2="878.5" stroke="#333" stroke-width="1.7"/>
<line x1="168" y1="924" x2="810" y2="924" stroke="#333" stroke-width="1.7"/>
<text x="178.2" y="733.0" font-family="Liberation Sans" font-weight="bold" font-size="30.5" fill="#1e1e1e" stroke="#1e1e1e" stroke-width="0.45" textLength="64.2" lengthAdjust="spacingAndGlyphs">5230</text>
<g transform="translate(244.00,732.60) scale(1.0)" fill="none" stroke="#262626" stroke-width="1.75" stroke-linecap="butt" stroke-linejoin="miter"><g transform="translate(0.00,0)"><path d="M15.2,-4.6 L0.9,-4.6 L12.0,-20.3 L12.0,0"/></g><g transform="translate(17.80,0)"><ellipse cx="7.3" cy="-10.5" rx="6.5" ry="9.8"/></g></g>
<g transform="translate(296.60,732.60) scale(1.0)" fill="none" stroke="#262626" stroke-width="1.75" stroke-linecap="butt" stroke-linejoin="miter"><g transform="translate(0.00,0)"><path d="M0.8,-18.4 L4.2,-20.3 L4.2,0"/></g><g transform="translate(13.00,0)"><path d="M0.8,3.8 L14.0,-22"/></g><g transform="translate(31.80,0)"><path d="M1.2,-14.6 C1.2,-18.2 3.8,-20.3 6.9,-20.3 C10.1,-20.3 12.6,-18.0 12.6,-14.7 C12.6,-12.3 11.3,-10.6 9.7,-9.0 L1.1,-0.8 L13.8,-0.8"/></g><g transform="translate(48.60,0)"><path d="M2.6,-20.6 L0.8,-14.0 M6.8,-20.6 L5.0,-14.0"/></g></g>
<g transform="translate(384.90,732.60) scale(1.0)" fill="none" stroke="#262626" stroke-width="1.75" stroke-linecap="butt" stroke-linejoin="miter"><g transform="translate(0.00,0)"><circle cx="6.25" cy="-15.6" r="4.6"/><circle cx="6.25" cy="-6.1" r="5.3"/></g><g transform="translate(15.10,0)"><path d="M13.6,-20.2 L3.7,-20.2 L2.9,-11.0 C4.3,-12.0 5.9,-12.5 7.4,-12.5 C10.7,-12.5 12.8,-10.0 12.8,-6.6 C12.8,-3.0 10.4,-0.8 7.1,-0.8 C4.4,-0.8 2.1,-2.0 0.8,-3.9"/></g></g>
<g transform="translate(451.85,732.60) scale(1.0)" fill="none" stroke="#262626" stroke-width="1.75" stroke-linecap="butt" stroke-linejoin="miter"><g transform="translate(0.00,0)"><path d="M0.8,-18.4 L4.2,-20.3 L4.2,0"/></g><g transform="translate(12.80,0)"><path d="M0,-20.2 L13.8,-20.2 L1.2,0"/></g><g transform="translate(30.20,0)"><ellipse cx="7.3" cy="-10.5" rx="6.5" ry="9.8"/></g></g>
<g transform="translate(526.80,732.60) scale(1.0)" fill="none" stroke="#262626" stroke-width="1.75" stroke-linecap="butt" stroke-linejoin="miter"><g transform="translate(0.00,0)"><path d="M0.8,-18.4 L4.2,-20.3 L4.2,0"/></g><g transform="translate(12.80,0)"><circle cx="7.6" cy="-7.7" r="6.9"/><path d="M9.4,-20.6 L1.9,-10.8"/></g><g transform="translate(30.60,0)"><circle cx="7.0" cy="-13.4" r="6.9"/><path d="M12.6,-10.0 L5.2,0"/></g></g>
<g transform="translate(600.15,732.60) scale(1.0)" fill="none" stroke="#262626" stroke-width="1.75" stroke-linecap="butt" stroke-linejoin="miter"><g transform="translate(0.00,0)"><circle cx="7.0" cy="-13.4" r="6.9"/><path d="M12.6,-10.0 L5.2,0"/></g><g transform="translate(16.60,0)"><path d="M13.6,-20.2 L3.7,-20.2 L2.9,-11.0 C4.3,-12.0 5.9,-12.5 7.4,-12.5 C10.7,-12.5 12.8,-10.0 12.8,-6.6 C12.8,-3.0 10.4,-0.8 7.1,-0.8 C4.4,-0.8 2.1,-2.0 0.8,-3.9"/></g></g>
<g transform="translate(664.45,732.60) scale(1.0)" fill="none" stroke="#262626" stroke-width="1.75" stroke-linecap="butt" stroke-linejoin="miter"><g transform="translate(0.00,0)"><path d="M0,-20.2 L13.8,-20.2 L1.2,0"/></g><g transform="translate(17.40,0)"><path d="M15.2,-4.6 L0.9,-4.6 L12.0,-20.3 L12.0,0"/></g></g>
<g transform="translate(734.20,732.60) scale(1.0)" fill="none" stroke="#262626" stroke-width="1.75" stroke-linecap="butt" stroke-linejoin="miter"><g transform="translate(0.00,0)"><path d="M0.8,-18.4 L4.2,-20.3 L4.2,0"/></g><g transform="translate(14.60,0)"><path d="M2.9,-2.0 L0.6,4.6"/></g><g transform="translate(22.80,0)"><circle cx="7.6" cy="-7.7" r="6.9"/><path d="M9.4,-20.6 L1.9,-10.8"/></g><g transform="translate(40.60,0)"><path d="M13.6,-20.2 L3.7,-20.2 L2.9,-11.0 C4.3,-12.0 5.9,-12.5 7.4,-12.5 C10.7,-12.5 12.8,-10.0 12.8,-6.6 C12.8,-3.0 10.4,-0.8 7.1,-0.8 C4.4,-0.8 2.1,-2.0 0.8,-3.9"/></g></g>
<text x="178.2" y="778.3" font-family="Liberation Sans" font-weight="bold" font-size="30.5" fill="#1e1e1e" stroke="#1e1e1e" stroke-width="0.45" textLength="64.2" lengthAdjust="spacingAndGlyphs">5230</text>
<g transform="translate(244.00,777.90) scale(1.0)" fill="none" stroke="#262626" stroke-width="1.75" stroke-linecap="butt" stroke-linejoin="miter"><g transform="translate(0.00,0)"><path d="M13.6,-20.2 L3.7,-20.2 L2.9,-11.0 C4.3,-12.0 5.9,-12.5 7.4,-12.5 C10.7,-12.5 12.8,-10.0 12.8,-6.6 C12.8,-3.0 10.4,-0.8 7.1,-0.8 C4.4,-0.8 2.1,-2.0 0.8,-3.9"/></g><g transform="translate(16.20,0)"><ellipse cx="7.3" cy="-10.5" rx="6.5" ry="9.8"/></g></g>
<g transform="translate(295.00,777.90) scale(1.0)" fill="none" stroke="#262626" stroke-width="1.75" stroke-linecap="butt" stroke-linejoin="miter"><g transform="translate(0.00,0)"><path d="M1.0,-16.6 C1.6,-18.9 3.6,-20.3 6.0,-20.3 C8.8,-20.3 10.8,-18.4 10.8,-15.7 C10.8,-12.9 8.8,-11.2 6.0,-11.2 C9.2,-11.2 11.4,-9.0 11.4,-6.0 C11.4,-2.8 9.1,-0.8 6.1,-0.8 C3.5,-0.8 1.6,-2.0 0.8,-4.0"/></g><g transform="translate(17.00,0)"><path d="M0.8,3.8 L14.0,-22"/></g><g transform="translate(34.20,0)"><path d="M15.2,-4.6 L0.9,-4.6 L12.0,-20.3 L12.0,0"/></g><g transform="translate(51.80,0)"><path d="M2.6,-20.6 L0.8,-14.0 M6.8,-20.6 L5.0,-14.0"/></g></g>
<g transform="translate(384.90,777.90) scale(1.0)" fill="none" stroke="#262626" stroke-width="1.75" stroke-linecap="butt" stroke-linejoin="miter"><g transform="translate(0.00,0)"><circle cx="6.25" cy="-15.6" r="4.6"/><circle cx="6.25" cy="-6.1" r="5.3"/></g><g transform="translate(15.10,0)"><path d="M13.6,-20.2 L3.7,-20.2 L2.9,-11.0 C4.3,-12.0 5.9,-12.5 7.4,-12.5 C10.7,-12.5 12.8,-10.0 12.8,-6.6 C12.8,-3.0 10.4,-0.8 7.1,-0.8 C4.4,-0.8 2.1,-2.0 0.8,-3.9"/></g></g>
<g transform="translate(451.85,777.90) scale(1.0)" fill="none" stroke="#262626" stroke-width="1.75" stroke-linecap="butt" stroke-linejoin="miter"><g transform="translate(0.00,0)"><path d="M0.8,-18.4 L4.2,-20.3 L4.2,0"/></g><g transform="translate(12.80,0)"><path d="M0,-20.2 L13.8,-20.2 L1.2,0"/></g><g transform="translate(30.20,0)"><ellipse cx="7.3" cy="-10.5" rx="6.5" ry="9.8"/></g></g>
<g transform="translate(526.80,777.90) scale(1.0)" fill="none" stroke="#262626" stroke-width="1.75" stroke-linecap="butt" stroke-linejoin="miter"><g transform="translate(0.00,0)"><path d="M0.8,-18.4 L4.2,-20.3 L4.2,0"/></g><g transform="translate(12.80,0)"><circle cx="7.6" cy="-7.7" r="6.9"/><path d="M9.4,-20.6 L1.9,-10.8"/></g><g transform="translate(30.60,0)"><circle cx="7.0" cy="-13.4" r="6.9"/><path d="M12.6,-10.0 L5.2,0"/></g></g>
<g transform="translate(600.15,777.90) scale(1.0)" fill="none" stroke="#262626" stroke-width="1.75" stroke-linecap="butt" stroke-linejoin="miter"><g transform="translate(0.00,0)"><circle cx="7.0" cy="-13.4" r="6.9"/><path d="M12.6,-10.0 L5.2,0"/></g><g transform="translate(16.60,0)"><path d="M13.6,-20.2 L3.7,-20.2 L2.9,-11.0 C4.3,-12.0 5.9,-12.5 7.4,-12.5 C10.7,-12.5 12.8,-10.0 12.8,-6.6 C12.8,-3.0 10.4,-0.8 7.1,-0.8 C4.4,-0.8 2.1,-2.0 0.8,-3.9"/></g></g>
<g transform="translate(664.45,777.90) scale(1.0)" fill="none" stroke="#262626" stroke-width="1.75" stroke-linecap="butt" stroke-linejoin="miter"><g transform="translate(0.00,0)"><path d="M0,-20.2 L13.8,-20.2 L1.2,0"/></g><g transform="translate(17.40,0)"><path d="M15.2,-4.6 L0.9,-4.6 L12.0,-20.3 L12.0,0"/></g></g>
<g transform="translate(734.75,777.90) scale(1.0)" fill="none" stroke="#262626" stroke-width="1.75" stroke-linecap="butt" stroke-linejoin="miter"><g transform="translate(0.00,0)"><path d="M0.8,-18.4 L4.2,-20.3 L4.2,0"/></g><g transform="translate(14.60,0)"><path d="M2.9,-2.0 L0.6,4.6"/></g><g transform="translate(22.80,0)"><circle cx="7.6" cy="-7.7" r="6.9"/><path d="M9.4,-20.6 L1.9,-10.8"/></g><g transform="translate(40.60,0)"><circle cx="6.25" cy="-15.6" r="4.6"/><circle cx="6.25" cy="-6.1" r="5.3"/></g></g>
<text x="178.2" y="823.6" font-family="Liberation Sans" font-weight="bold" font-size="30.5" fill="#1e1e1e" stroke="#1e1e1e" stroke-width="0.45" textLength="64.2" lengthAdjust="spacingAndGlyphs">5230</text>
<g transform="translate(244.00,823.20) scale(1.0)" fill="none" stroke="#262626" stroke-width="1.75" stroke-linecap="butt" stroke-linejoin="miter"><g transform="translate(0.00,0)"><circle cx="7.6" cy="-7.7" r="6.9"/><path d="M9.4,-20.6 L1.9,-10.8"/></g><g transform="translate(17.80,0)"><ellipse cx="7.3" cy="-10.5" rx="6.5" ry="9.8"/></g></g>
<g transform="translate(314.75,823.20) scale(1.0)" fill="none" stroke="#262626" stroke-width="1.75" stroke-linecap="butt" stroke-linejoin="miter"><g transform="translate(0.00,0)"><path d="M0.8,-18.4 L4.2,-20.3 L4.2,0"/></g><g transform="translate(12.30,0)"><path d="M2.6,-20.6 L0.8,-14.0 M6.8,-20.6 L5.0,-14.0"/></g></g>
<g transform="translate(379.15,823.20) scale(1.0)" fill="none" stroke="#262626" stroke-width="1.75" stroke-linecap="butt" stroke-linejoin="miter"><g transform="translate(0.00,0)"><path d="M0.8,-18.4 L4.2,-20.3 L4.2,0"/></g><g transform="translate(12.80,0)"><ellipse cx="7.3" cy="-10.5" rx="6.5" ry="9.8"/></g><g transform="translate(35.20,0)"><path d="M0.8,-18.4 L4.2,-20.3 L4.2,0"/></g></g>
<g transform="translate(450.55,823.20) scale(1.0)" fill="none" stroke="#262626" stroke-width="1.75" stroke-linecap="butt" stroke-linejoin="miter"><g transform="translate(0.00,0)"><path d="M1.2,-14.6 C1.2,-18.2 3.8,-20.3 6.9,-20.3 C10.1,-20.3 12.6,-18.0 12.6,-14.7 C12.6,-12.3 11.3,-10.6 9.7,-9.0 L1.1,-0.8 L13.8,-0.8"/></g><g transform="translate(16.40,0)"><ellipse cx="7.3" cy="-10.5" rx="6.5" ry="9.8"/></g><g transform="translate(33.60,0)"><path d="M1.2,-14.6 C1.2,-18.2 3.8,-20.3 6.9,-20.3 C10.1,-20.3 12.6,-18.0 12.6,-14.7 C12.6,-12.3 11.3,-10.6 9.7,-9.0 L1.1,-0.8 L13.8,-0.8"/></g></g>
<g transform="translate(527.60,823.20) scale(1.0)" fill="none" stroke="#262626" stroke-width="1.75" stroke-linecap="butt" stroke-linejoin="miter"><g transform="translate(0.00,0)"><path d="M0.8,-18.4 L4.2,-20.3 L4.2,0"/></g><g transform="translate(12.80,0)"><circle cx="7.0" cy="-13.4" r="6.9"/><path d="M12.6,-10.0 L5.2,0"/></g><g transform="translate(29.40,0)"><path d="M13.6,-20.2 L3.7,-20.2 L2.9,-11.0 C4.3,-12.0 5.9,-12.5 7.4,-12.5 C10.7,-12.5 12.8,-10.0 12.8,-6.6 C12.8,-3.0 10.4,-0.8 7.1,-0.8 C4.4,-0.8 2.1,-2.0 0.8,-3.9"/></g></g>
<g transform="translate(592.85,823.20) scale(1.0)" fill="none" stroke="#262626" stroke-width="1.75" stroke-linecap="butt" stroke-linejoin="miter"><g transform="translate(0.00,0)"><path d="M0.8,-18.4 L4.2,-20.3 L4.2,0"/></g><g transform="translate(12.80,0)"><ellipse cx="7.3" cy="-10.5" rx="6.5" ry="9.8"/></g><g transform="translate(30.00,0)"><path d="M0,-20.2 L13.8,-20.2 L1.2,0"/></g></g>
<g transform="translate(666.95,823.20) scale(1.0)" fill="none" stroke="#262626" stroke-width="1.75" stroke-linecap="butt" stroke-linejoin="miter"><g transform="translate(0.00,0)"><circle cx="6.25" cy="-15.6" r="4.6"/><circle cx="6.25" cy="-6.1" r="5.3"/></g><g transform="translate(15.10,0)"><circle cx="6.25" cy="-15.6" r="4.6"/><circle cx="6.25" cy="-6.1" r="5.3"/></g></g>
<g transform="translate(734.25,823.20) scale(1.0)" fill="none" stroke="#262626" stroke-width="1.75" stroke-linecap="butt" stroke-linejoin="miter"><g transform="translate(0.00,0)"><path d="M1.0,-16.6 C1.6,-18.9 3.6,-20.3 6.0,-20.3 C8.8,-20.3 10.8,-18.4 10.8,-15.7 C10.8,-12.9 8.8,-11.2 6.0,-11.2 C9.2,-11.2 11.4,-9.0 11.4,-6.0 C11.4,-2.8 9.1,-0.8 6.1,-0.8 C3.5,-0.8 1.6,-2.0 0.8,-4.0"/></g><g transform="translate(14.70,0)"><path d="M2.9,-2.0 L0.6,4.6"/></g><g transform="translate(22.90,0)"><ellipse cx="7.3" cy="-10.5" rx="6.5" ry="9.8"/></g><g transform="translate(40.10,0)"><circle cx="7.0" cy="-13.4" r="6.9"/><path d="M12.6,-10.0 L5.2,0"/></g></g>
<text x="178.2" y="868.9" font-family="Liberation Sans" font-weight="bold" font-size="30.5" fill="#1e1e1e" stroke="#1e1e1e" stroke-width="0.45" textLength="64.2" lengthAdjust="spacingAndGlyphs">5230</text>
<g transform="translate(244.00,868.50) scale(1.0)" fill="none" stroke="#262626" stroke-width="1.75" stroke-linecap="butt" stroke-linejoin="miter"><g transform="translate(0.00,0)"><path d="M0,-20.2 L13.8,-20.2 L1.2,0"/></g><g transform="translate(17.40,0)"><ellipse cx="7.3" cy="-10.5" rx="6.5" ry="9.8"/></g></g>
<g transform="translate(293.45,868.50) scale(1.0)" fill="none" stroke="#262626" stroke-width="1.75" stroke-linecap="butt" stroke-linejoin="miter"><g transform="translate(0.00,0)"><path d="M0.8,-18.4 L4.2,-20.3 L4.2,0"/></g><g transform="translate(13.90,0)"><path d="M0.8,-18.4 L4.2,-20.3 L4.2,0"/></g><g transform="translate(24.90,0)"><path d="M0.8,3.8 L14.0,-22"/></g><g transform="translate(38.20,0)"><path d="M15.2,-4.6 L0.9,-4.6 L12.0,-20.3 L12.0,0"/></g><g transform="translate(54.90,0)"><path d="M2.6,-20.6 L0.8,-14.0 M6.8,-20.6 L5.0,-14.0"/></g></g>
<g transform="translate(379.15,868.50) scale(1.0)" fill="none" stroke="#262626" stroke-width="1.75" stroke-linecap="butt" stroke-linejoin="miter"><g transform="translate(0.00,0)"><path d="M0.8,-18.4 L4.2,-20.3 L4.2,0"/></g><g transform="translate(12.80,0)"><ellipse cx="7.3" cy="-10.5" rx="6.5" ry="9.8"/></g><g transform="translate(35.20,0)"><path d="M0.8,-18.4 L4.2,-20.3 L4.2,0"/></g></g>
<g transform="translate(450.55,868.50) scale(1.0)" fill="none" stroke="#262626" stroke-width="1.75" stroke-linecap="butt" stroke-linejoin="miter"><g transform="translate(0.00,0)"><path d="M1.2,-14.6 C1.2,-18.2 3.8,-20.3 6.9,-20.3 C10.1,-20.3 12.6,-18.0 12.6,-14.7 C12.6,-12.3 11.3,-10.6 9.7,-9.0 L1.1,-0.8 L13.8,-0.8"/></g><g transform="translate(16.40,0)"><ellipse cx="7.3" cy="-10.5" rx="6.5" ry="9.8"/></g><g transform="translate(33.60,0)"><path d="M1.2,-14.6 C1.2,-18.2 3.8,-20.3 6.9,-20.3 C10.1,-20.3 12.6,-18.0 12.6,-14.7 C12.6,-12.3 11.3,-10.6 9.7,-9.0 L1.1,-0.8 L13.8,-0.8"/></g></g>
<g transform="translate(527.60,868.50) scale(1.0)" fill="none" stroke="#262626" stroke-width="1.75" stroke-linecap="butt" stroke-linejoin="miter"><g transform="translate(0.00,0)"><path d="M0.8,-18.4 L4.2,-20.3 L4.2,0"/></g><g transform="translate(12.80,0)"><circle cx="7.0" cy="-13.4" r="6.9"/><path d="M12.6,-10.0 L5.2,0"/></g><g transform="translate(29.40,0)"><path d="M13.6,-20.2 L3.7,-20.2 L2.9,-11.0 C4.3,-12.0 5.9,-12.5 7.4,-12.5 C10.7,-12.5 12.8,-10.0 12.8,-6.6 C12.8,-3.0 10.4,-0.8 7.1,-0.8 C4.4,-0.8 2.1,-2.0 0.8,-3.9"/></g></g>
<g transform="translate(592.85,868.50) scale(1.0)" fill="none" stroke="#262626" stroke-width="1.75" stroke-linecap="butt" stroke-linejoin="miter"><g transform="translate(0.00,0)"><path d="M0.8,-18.4 L4.2,-20.3 L4.2,0"/></g><g transform="translate(12.80,0)"><ellipse cx="7.3" cy="-10.5" rx="6.5" ry="9.8"/></g><g transform="translate(30.00,0)"><path d="M0,-20.2 L13.8,-20.2 L1.2,0"/></g></g>
<g transform="translate(666.95,868.50) scale(1.0)" fill="none" stroke="#262626" stroke-width="1.75" stroke-linecap="butt" stroke-linejoin="miter"><g transform="translate(0.00,0)"><circle cx="6.25" cy="-15.6" r="4.6"/><circle cx="6.25" cy="-6.1" r="5.3"/></g><g transform="translate(15.10,0)"><circle cx="6.25" cy="-15.6" r="4.6"/><circle cx="6.25" cy="-6.1" r="5.3"/></g></g>
<g transform="translate(733.85,868.50) scale(1.0)" fill="none" stroke="#262626" stroke-width="1.75" stroke-linecap="butt" stroke-linejoin="miter"><g transform="translate(0.00,0)"><path d="M1.0,-16.6 C1.6,-18.9 3.6,-20.3 6.0,-20.3 C8.8,-20.3 10.8,-18.4 10.8,-15.7 C10.8,-12.9 8.8,-11.2 6.0,-11.2 C9.2,-11.2 11.4,-9.0 11.4,-6.0 C11.4,-2.8 9.1,-0.8 6.1,-0.8 C3.5,-0.8 1.6,-2.0 0.8,-4.0"/></g><g transform="translate(14.70,0)"><path d="M2.9,-2.0 L0.6,4.6"/></g><g transform="translate(22.90,0)"><ellipse cx="7.3" cy="-10.5" rx="6.5" ry="9.8"/></g><g transform="translate(40.10,0)"><path d="M0,-20.2 L13.8,-20.2 L1.2,0"/></g></g>
<text x="178.2" y="914.2" font-family="Liberation Sans" font-weight="bold" font-size="30.5" fill="#1e1e1e" stroke="#1e1e1e" stroke-width="0.45" textLength="64.2" lengthAdjust="spacingAndGlyphs">5230</text>
<g transform="translate(244.00,913.80) scale(1.0)" fill="none" stroke="#262626" stroke-width="1.75" stroke-linecap="butt" stroke-linejoin="miter"><g transform="translate(0.00,0)"><circle cx="6.25" cy="-15.6" r="4.6"/><circle cx="6.25" cy="-6.1" r="5.3"/></g><g transform="translate(15.10,0)"><ellipse cx="7.3" cy="-10.5" rx="6.5" ry="9.8"/></g></g>
<g transform="translate(293.90,913.80) scale(1.0)" fill="none" stroke="#262626" stroke-width="1.75" stroke-linecap="butt" stroke-linejoin="miter"><g transform="translate(0.00,0)"><path d="M0.8,-18.4 L4.2,-20.3 L4.2,0"/></g><g transform="translate(13.90,0)"><path d="M0.8,-18.4 L4.2,-20.3 L4.2,0"/></g><g transform="translate(24.90,0)"><path d="M0.8,3.8 L14.0,-22"/></g><g transform="translate(39.20,0)"><path d="M1.2,-14.6 C1.2,-18.2 3.8,-20.3 6.9,-20.3 C10.1,-20.3 12.6,-18.0 12.6,-14.7 C12.6,-12.3 11.3,-10.6 9.7,-9.0 L1.1,-0.8 L13.8,-0.8"/></g><g transform="translate(54.00,0)"><path d="M2.6,-20.6 L0.8,-14.0 M6.8,-20.6 L5.0,-14.0"/></g></g>
<g transform="translate(377.65,913.80) scale(1.0)" fill="none" stroke="#262626" stroke-width="1.75" stroke-linecap="butt" stroke-linejoin="miter"><g transform="translate(0.00,0)"><path d="M0.8,-18.4 L4.2,-20.3 L4.2,0"/></g><g transform="translate(12.80,0)"><path d="M1.2,-14.6 C1.2,-18.2 3.8,-20.3 6.9,-20.3 C10.1,-20.3 12.6,-18.0 12.6,-14.7 C12.6,-12.3 11.3,-10.6 9.7,-9.0 L1.1,-0.8 L13.8,-0.8"/></g><g transform="translate(29.20,0)"><circle cx="7.0" cy="-13.4" r="6.9"/><path d="M12.6,-10.0 L5.2,0"/></g></g>
<g transform="translate(451.70,913.80) scale(1.0)" fill="none" stroke="#262626" stroke-width="1.75" stroke-linecap="butt" stroke-linejoin="miter"><g transform="translate(0.00,0)"><path d="M1.2,-14.6 C1.2,-18.2 3.8,-20.3 6.9,-20.3 C10.1,-20.3 12.6,-18.0 12.6,-14.7 C12.6,-12.3 11.3,-10.6 9.7,-9.0 L1.1,-0.8 L13.8,-0.8"/></g><g transform="translate(16.40,0)"><path d="M13.6,-20.2 L3.7,-20.2 L2.9,-11.0 C4.3,-12.0 5.9,-12.5 7.4,-12.5 C10.7,-12.5 12.8,-10.0 12.8,-6.6 C12.8,-3.0 10.4,-0.8 7.1,-0.8 C4.4,-0.8 2.1,-2.0 0.8,-3.9"/></g><g transform="translate(32.60,0)"><circle cx="6.25" cy="-15.6" r="4.6"/><circle cx="6.25" cy="-6.1" r="5.3"/></g></g>
<g transform="translate(525.90,913.80) scale(1.0)" fill="none" stroke="#262626" stroke-width="1.75" stroke-linecap="butt" stroke-linejoin="miter"><g transform="translate(0.00,0)"><path d="M1.2,-14.6 C1.2,-18.2 3.8,-20.3 6.9,-20.3 C10.1,-20.3 12.6,-18.0 12.6,-14.7 C12.6,-12.3 11.3,-10.6 9.7,-9.0 L1.1,-0.8 L13.8,-0.8"/></g><g transform="translate(16.40,0)"><path d="M15.2,-4.6 L0.9,-4.6 L12.0,-20.3 L12.0,0"/></g><g transform="translate(34.20,0)"><path d="M1.0,-16.6 C1.6,-18.9 3.6,-20.3 6.0,-20.3 C8.8,-20.3 10.8,-18.4 10.8,-15.7 C10.8,-12.9 8.8,-11.2 6.0,-11.2 C9.2,-11.2 11.4,-9.0 11.4,-6.0 C11.4,-2.8 9.1,-0.8 6.1,-0.8 C3.5,-0.8 1.6,-2.0 0.8,-4.0"/></g></g>
<g transform="translate(594.65,913.80) scale(1.0)" fill="none" stroke="#262626" stroke-width="1.75" stroke-linecap="butt" stroke-linejoin="miter"><g transform="translate(0.00,0)"><path d="M0.8,-18.4 L4.2,-20.3 L4.2,0"/></g><g transform="translate(12.80,0)"><path d="M1.0,-16.6 C1.6,-18.9 3.6,-20.3 6.0,-20.3 C8.8,-20.3 10.8,-18.4 10.8,-15.7 C10.8,-12.9 8.8,-11.2 6.0,-11.2 C9.2,-11.2 11.4,-9.0 11.4,-6.0 C11.4,-2.8 9.1,-0.8 6.1,-0.8 C3.5,-0.8 1.6,-2.0 0.8,-4.0"/></g><g transform="translate(27.60,0)"><path d="M13.6,-20.2 L3.7,-20.2 L2.9,-11.0 C4.3,-12.0 5.9,-12.5 7.4,-12.5 C10.7,-12.5 12.8,-10.0 12.8,-6.6 C12.8,-3.0 10.4,-0.8 7.1,-0.8 C4.4,-0.8 2.1,-2.0 0.8,-3.9"/></g></g>
<g transform="translate(659.50,913.80) scale(1.0)" fill="none" stroke="#262626" stroke-width="1.75" stroke-linecap="butt" stroke-linejoin="miter"><g transform="translate(0.00,0)"><path d="M0.8,-18.4 L4.2,-20.3 L4.2,0"/></g><g transform="translate(12.80,0)"><ellipse cx="7.3" cy="-10.5" rx="6.5" ry="9.8"/></g><g transform="translate(30.00,0)"><circle cx="6.25" cy="-15.6" r="4.6"/><circle cx="6.25" cy="-6.1" r="5.3"/></g></g>
<g transform="translate(733.80,913.80) scale(1.0)" fill="none" stroke="#262626" stroke-width="1.75" stroke-linecap="butt" stroke-linejoin="miter"><g transform="translate(0.00,0)"><circle cx="6.25" cy="-15.6" r="4.6"/><circle cx="6.25" cy="-6.1" r="5.3"/></g><g transform="translate(15.00,0)"><path d="M2.9,-2.0 L0.6,4.6"/></g><g transform="translate(23.20,0)"><ellipse cx="7.3" cy="-10.5" rx="6.5" ry="9.8"/></g><g transform="translate(40.40,0)"><ellipse cx="7.3" cy="-10.5" rx="6.5" ry="9.8"/></g></g>
<text x="178.2" y="959.5" font-family="Liberation Sans" font-weight="bold" font-size="30.5" fill="#1e1e1e" stroke="#1e1e1e" stroke-width="0.45" textLength="64.2" lengthAdjust="spacingAndGlyphs">5230</text>
<g transform="translate(244.00,959.10) scale(1.0)" fill="none" stroke="#262626" stroke-width="1.75" stroke-linecap="butt" stroke-linejoin="miter"><g transform="translate(0.00,0)"><circle cx="7.0" cy="-13.4" r="6.9"/><path d="M12.6,-10.0 L5.2,0"/></g><g transform="translate(16.60,0)"><ellipse cx="7.3" cy="-10.5" rx="6.5" ry="9.8"/></g></g>
<g transform="translate(312.75,959.10) scale(1.0)" fill="none" stroke="#262626" stroke-width="1.75" stroke-linecap="butt" stroke-linejoin="miter"><g transform="translate(0.00,0)"><path d="M1.2,-14.6 C1.2,-18.2 3.8,-20.3 6.9,-20.3 C10.1,-20.3 12.6,-18.0 12.6,-14.7 C12.6,-12.3 11.3,-10.6 9.7,-9.0 L1.1,-0.8 L13.8,-0.8"/></g><g transform="translate(16.30,0)"><path d="M2.6,-20.6 L0.8,-14.0 M6.8,-20.6 L5.0,-14.0"/></g></g>
<g transform="translate(377.65,959.10) scale(1.0)" fill="none" stroke="#262626" stroke-width="1.75" stroke-linecap="butt" stroke-linejoin="miter"><g transform="translate(0.00,0)"><path d="M0.8,-18.4 L4.2,-20.3 L4.2,0"/></g><g transform="translate(12.80,0)"><path d="M1.2,-14.6 C1.2,-18.2 3.8,-20.3 6.9,-20.3 C10.1,-20.3 12.6,-18.0 12.6,-14.7 C12.6,-12.3 11.3,-10.6 9.7,-9.0 L1.1,-0.8 L13.8,-0.8"/></g><g transform="translate(29.20,0)"><circle cx="7.0" cy="-13.4" r="6.9"/><path d="M12.6,-10.0 L5.2,0"/></g></g>
<g transform="translate(451.70,959.10) scale(1.0)" fill="none" stroke="#262626" stroke-width="1.75" stroke-linecap="butt" stroke-linejoin="miter"><g transform="translate(0.00,0)"><path d="M1.2,-14.6 C1.2,-18.2 3.8,-20.3 6.9,-20.3 C10.1,-20.3 12.6,-18.0 12.6,-14.7 C12.6,-12.3 11.3,-10.6 9.7,-9.0 L1.1,-0.8 L13.8,-0.8"/></g><g transform="translate(16.40,0)"><path d="M13.6,-20.2 L3.7,-20.2 L2.9,-11.0 C4.3,-12.0 5.9,-12.5 7.4,-12.5 C10.7,-12.5 12.8,-10.0 12.8,-6.6 C12.8,-3.0 10.4,-0.8 7.1,-0.8 C4.4,-0.8 2.1,-2.0 0.8,-3.9"/></g><g transform="translate(32.60,0)"><circle cx="6.25" cy="-15.6" r="4.6"/><circle cx="6.25" cy="-6.1" r="5.3"/></g></g>
<g transform="translate(525.90,959.10) scale(1.0)" fill="none" stroke="#262626" stroke-width="1.75" stroke-linecap="butt" stroke-linejoin="miter"><g transform="translate(0.00,0)"><path d="M1.2,-14.6 C1.2,-18.2 3.8,-20.3 6.9,-20.3 C10.1,-20.3 12.6,-18.0 12.6,-14.7 C12.6,-12.3 11.3,-10.6 9.7,-9.0 L1.1,-0.8 L13.8,-0.8"/></g><g transform="translate(16.40,0)"><path d="M15.2,-4.6 L0.9,-4.6 L12.0,-20.3 L12.0,0"/></g><g transform="translate(34.20,0)"><path d="M1.0,-16.6 C1.6,-18.9 3.6,-20.3 6.0,-20.3 C8.8,-20.3 10.8,-18.4 10.8,-15.7 C10.8,-12.9 8.8,-11.2 6.0,-11.2 C9.2,-11.2 11.4,-9.0 11.4,-6.0 C11.4,-2.8 9.1,-0.8 6.1,-0.8 C3.5,-0.8 1.6,-2.0 0.8,-4.0"/></g></g>
<g transform="translate(594.65,959.10) scale(1.0)" fill="none" stroke="#262626" stroke-width="1.75" stroke-linecap="butt" stroke-linejoin="miter"><g transform="translate(0.00,0)"><path d="M0.8,-18.4 L4.2,-20.3 L4.2,0"/></g><g transform="translate(12.80,0)"><path d="M1.0,-16.6 C1.6,-18.9 3.6,-20.3 6.0,-20.3 C8.8,-20.3 10.8,-18.4 10.8,-15.7 C10.8,-12.9 8.8,-11.2 6.0,-11.2 C9.2,-11.2 11.4,-9.0 11.4,-6.0 C11.4,-2.8 9.1,-0.8 6.1,-0.8 C3.5,-0.8 1.6,-2.0 0.8,-4.0"/></g><g transform="translate(27.60,0)"><path d="M13.6,-20.2 L3.7,-20.2 L2.9,-11.0 C4.3,-12.0 5.9,-12.5 7.4,-12.5 C10.7,-12.5 12.8,-10.0 12.8,-6.6 C12.8,-3.0 10.4,-0.8 7.1,-0.8 C4.4,-0.8 2.1,-2.0 0.8,-3.9"/></g></g>
<g transform="translate(659.50,959.10) scale(1.0)" fill="none" stroke="#262626" stroke-width="1.75" stroke-linecap="butt" stroke-linejoin="miter"><g transform="translate(0.00,0)"><path d="M0.8,-18.4 L4.2,-20.3 L4.2,0"/></g><g transform="translate(12.80,0)"><ellipse cx="7.3" cy="-10.5" rx="6.5" ry="9.8"/></g><g transform="translate(30.00,0)"><circle cx="6.25" cy="-15.6" r="4.6"/><circle cx="6.25" cy="-6.1" r="5.3"/></g></g>
<g transform="translate(733.90,959.10) scale(1.0)" fill="none" stroke="#262626" stroke-width="1.75" stroke-linecap="butt" stroke-linejoin="miter"><g transform="translate(0.00,0)"><circle cx="6.25" cy="-15.6" r="4.6"/><circle cx="6.25" cy="-6.1" r="5.3"/></g><g transform="translate(15.00,0)"><path d="M2.9,-2.0 L0.6,4.6"/></g><g transform="translate(23.20,0)"><path d="M1.2,-14.6 C1.2,-18.2 3.8,-20.3 6.9,-20.3 C10.1,-20.3 12.6,-18.0 12.6,-14.7 C12.6,-12.3 11.3,-10.6 9.7,-9.0 L1.1,-0.8 L13.8,-0.8"/></g><g transform="translate(39.60,0)"><path d="M15.2,-4.6 L0.9,-4.6 L12.0,-20.3 L12.0,0"/></g></g>
</svg>
</body></html>
